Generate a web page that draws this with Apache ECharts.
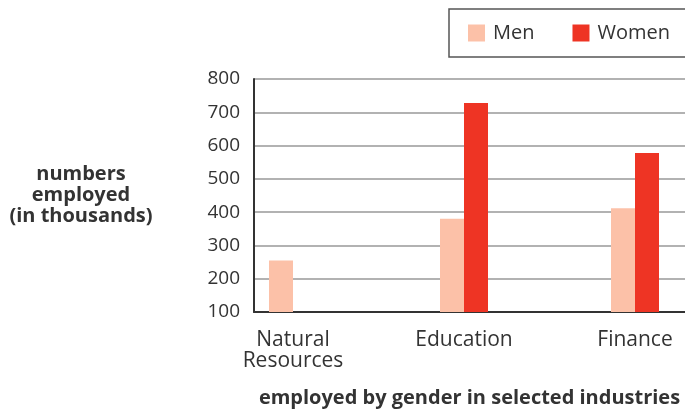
<!DOCTYPE html>
<html>
<head>
<meta charset="utf-8">
<script src="https://cdn.jsdelivr.net/npm/echarts@6/dist/echarts.min.js"></script>
<style>
  html, body { margin: 0; padding: 0; background: #fff; }
  #chart { width: 685px; height: 409px; }
</style>
</head>
<body>
<div id="chart"></div>
<script>
const categories = ["Natural\nResources", "Education", "Finance"];
const menValues = [255, 380, 412];
const womenValues = [null, 728, 578];
const seriesNames = ["Men", "Women"];
const yTicks = { min: 100, max: 800, step: 100 };

const font = "Open Sans";
const chart = echarts.init(document.getElementById("chart"));

const option = {
  animation: false,
  textStyle: { fontFamily: font },
  color: ["#fcc1a8", "#ee3424"],
  legend: {
    data: seriesNames,
    orient: "horizontal",
    left: 449,
    top: 9,
    width: 260,
    padding: [14, 40, 14, 19],
    borderColor: "#555",
    borderWidth: 1.5,
    itemGap: 38,
    itemWidth: 17,
    itemHeight: 17,
    icon: "rect",
    textStyle: { fontSize: 20, color: "#333", fontFamily: font, padding: [0, 0, 0, 3] }
  },
  // outerBoundsMode off so the axis names don't squeeze the plot
  grid: [
    { left: 254, right: 0, top: 79, bottom: 97, outerBoundsMode: "none" },
    { left: 293, right: 50, top: 79, bottom: 97, outerBoundsMode: "none" }
  ],
  xAxis: [
    {
      gridIndex: 0,
      type: "category",
      data: [""],
      axisLine: { lineStyle: { color: "#333", width: 2 } },
      axisTick: { show: false },
      axisLabel: { show: false },
      name: "employed by gender in selected industries",
      nameLocation: "middle",
      nameGap: 86,
      nameTextStyle: { fontSize: 20, fontWeight: "bold", color: "#333", fontFamily: font, verticalAlign: "middle" }
    },
    {
      gridIndex: 1,
      type: "category",
      data: categories,
      boundaryGap: false,
      axisLine: { show: false },
      axisTick: { show: false },
      axisLabel: { fontSize: 21, color: "#333", lineHeight: 21, margin: 18, fontFamily: font }
    }
  ],
  yAxis: [
    {
      gridIndex: 0,
      type: "value",
      min: yTicks.min,
      max: yTicks.max,
      interval: yTicks.step,
      axisLine: { show: true, lineStyle: { color: "#333", width: 2 } },
      axisTick: { show: false },
      axisLabel: { fontSize: 19, color: "#333", margin: 14, fontFamily: font },
      splitLine: { lineStyle: { color: "#999", width: 1.5 } },
      name: "numbers\nemployed\n(in thousands)",
      nameLocation: "middle",
      nameRotate: 0,
      nameGap: 173,
      nameTextStyle: {
        fontSize: 20, fontWeight: "bold", color: "#333", lineHeight: 21,
        align: "center", verticalAlign: "middle", fontFamily: font
      }
    },
    {
      gridIndex: 1,
      type: "value",
      min: yTicks.min,
      max: yTicks.max,
      interval: yTicks.step,
      show: false
    }
  ],
  series: [
    {
      name: seriesNames[0],
      type: "bar",
      xAxisIndex: 1,
      yAxisIndex: 1,
      data: menValues,
      barWidth: 24,
      barGap: "0%"
    },
    {
      name: seriesNames[1],
      type: "bar",
      xAxisIndex: 1,
      yAxisIndex: 1,
      data: womenValues,
      barWidth: 24,
      barGap: "0%"
    }
  ]
};

chart.setOption(option);
</script>
</body>
</html>
